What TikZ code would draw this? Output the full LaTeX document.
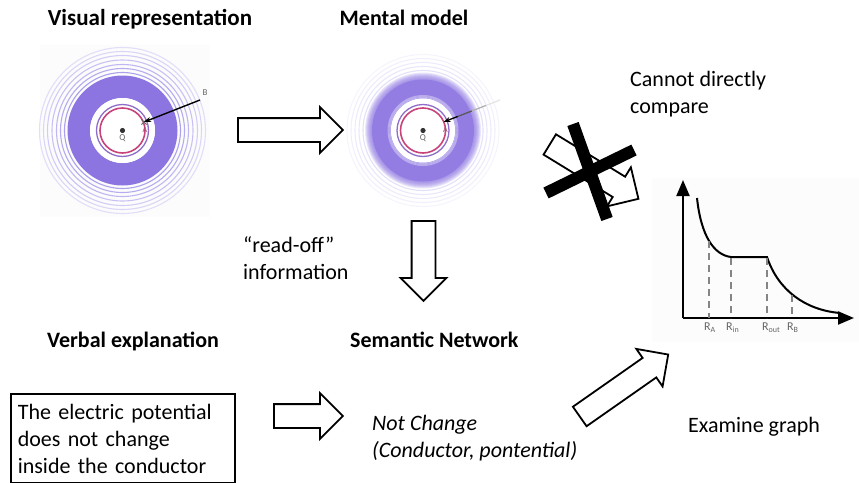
\documentclass[tikz,border=0pt]{standalone}
\usepackage{fontspec}
\setmainfont{Carlito}
\usetikzlibrary{shapes.arrows,arrows.meta,calc}
\definecolor{diskpurple}{HTML}{8C75E1}
\definecolor{ringpurple}{HTML}{9C90EA}
\definecolor{innerpurple}{HTML}{8F6CC8}
\definecolor{chargered}{HTML}{C8437A}
\definecolor{labelgray}{HTML}{666666}
\begin{document}
\begin{tikzpicture}[x=1pt,y=-1pt,
  txt/.style={font=\fontsize{22}{27}\selectfont, inner sep=0pt, align=left},
  title/.style={inner sep=0pt, font=\fontsize{22}{27}\selectfont\bfseries},
  hollow/.style={single arrow, draw=black, line width=1.8pt, fill=white,
    inner xsep=0pt, inner ysep=11pt, single arrow head extend=11pt, anchor=tail},
  tinylabel/.style={inner sep=0pt, text=labelgray, font=\fontsize{9}{9}\selectfont},
  axislabel/.style={inner sep=0pt, text=labelgray, font=\fontsize{12}{12}\selectfont, anchor=west},
  guide/.style={labelgray!80, line width=1.1pt, dash pattern=on 7pt off 5pt},
  cross/.style={line width=12pt, black}
]
\useasboundingbox (0,0) rectangle (859,482);

% ---------- titles ----------
\node[title, anchor=base, font=\fontsize{23}{27}\selectfont\bfseries] (vistitle) at (150,25) {Visual representation};
\node[title, anchor=base] (mentitle) at (404,25) {Mental model};
\node[title, anchor=base west] (verbtitle) at (47,347) {Verbal explanation};
\node[title, anchor=base west] (semtitle) at (350,347) {Semantic Network};

% ---------- visual representation: charged shell ----------
\fill[black!1] (40,45) rectangle (210,217);
\begin{scope}[shift={(122.5,130.5)}]
  \foreach \r/\c in {58/85,62/75,66/65,70.5/55,75/45,79/37,83/30}
    \draw[ringpurple!\c, line width=1.1pt] (0,0) circle (\r pt);
  \fill[diskpurple, even odd rule] (0,0) circle (55pt) (0,0) circle (32.5pt);
  \fill[white] (0,0) circle (32.5pt);
  \draw[innerpurple, line width=1.3pt] (0,0) circle (26pt);
  \draw[chargered, line width=1.6pt] (0,0) circle (22.5pt);
  \fill[black!80] (0,0) circle (2.6pt);
  \node[tinylabel] (qleft) at (0,8) {Q};
  \node[tinylabel, text=chargered!60!labelgray, font=\fontsize{8}{8}\selectfont] (aleft) at (22.5,-1) {A};
  \node[tinylabel] (bleft) at (82.5,-37.5) {B};
  \coordinate (Bvis) at (77.5,-30.5);
  \coordinate (Avis) at (21.5,-8.5);
\end{scope}
\draw[labelgray, line width=0.8pt] ($(Avis)+(-2.5,-2.5)$) -- ($(Avis)+(2.5,2.5)$)
  ($(Avis)+(-2.5,2.5)$) -- ($(Avis)+(2.5,-2.5)$);
\draw[black, line width=1.4pt, -{Stealth[length=7pt,width=5pt]}] (Bvis) -- (Avis);

% ---------- mental model: blurred copy ----------
\begin{scope}[shift={(423,130.5)}]
  \foreach \r/\c in {60/28,64/22,68/18,72/14,76/10}
    \draw[ringpurple!\c, line width=1.1pt] (0,0) circle (\r pt);
  \foreach \r in {58,57,...,52}
    \fill[diskpurple, opacity=0.18, even odd rule] (0,0) circle (\r pt) (0,0) circle (32pt);
  \fill[diskpurple!94!white, even odd rule] (0,0) circle (51pt) (0,0) circle (33pt);
  \foreach \r in {33,34,35}
    \draw[white, opacity=0.35, line width=1pt] (0,0) circle (\r pt);
  \fill[white] (0,0) circle (32pt);
  \draw[innerpurple, line width=1.3pt] (0,0) circle (26pt);
  \draw[chargered, line width=1.6pt] (0,0) circle (22.5pt);
  \fill[black!80] (0,0) circle (2.6pt);
  \node[tinylabel] (qmid) at (0,8) {Q};
  \node[tinylabel, text=chargered!60!labelgray, font=\fontsize{8}{8}\selectfont] (amid) at (22.5,-1) {A};
  \coordinate (Bmen) at (77,-30.5);
  \coordinate (Amen) at (20.5,-8.5);
\end{scope}
\draw[black!10, line width=1.3pt] (Bmen) -- ($(Bmen)!0.25!(Amen)$);
\draw[black!30, line width=1.3pt] ($(Bmen)!0.25!(Amen)$) -- ($(Bmen)!0.5!(Amen)$);
\draw[black!65, line width=1.3pt] ($(Bmen)!0.5!(Amen)$) -- ($(Bmen)!0.75!(Amen)$);
\draw[black, line width=1.3pt, -{Stealth[length=7pt,width=5pt]}] ($(Bmen)!0.75!(Amen)$) -- (Amen);

% ---------- block arrows ----------
\node[hollow, minimum height=105pt] (toMental) at (237,130) {};
\node[hollow, minimum height=80pt, rotate=-90] (readoff) at (423.5,220) {};
\node[hollow, minimum height=69pt] (toSemantic) at (273,416) {};
\node[hollow, minimum height=108pt, rotate=35] (toGraph) at (579,417) {};
\node[hollow, minimum height=104pt, rotate=-31.5] (blocked) at (549,144) {};
\draw[cross] (573,124) -- (607,219);
\draw[cross] (546,193) -- (634,150);

% ---------- potential graph ----------
\fill[black!1] (652,178) rectangle (859,342);
\coordinate (origin) at (683,318);
\coordinate (ytip) at (683,180);
\coordinate (xtip) at (854,318);
\draw[line width=2pt, -{Triangle[length=16pt,width=13pt]}] (origin) -- (ytip);
\draw[line width=2pt, -{Triangle[length=16pt,width=13pt]}] (origin) -- (xtip);
\draw[line width=2pt] (697,198) .. controls (701,236) and (714,255) .. (731,257)
  -- (767,257) .. controls (778,290) and (805,310) .. (840,313);
\draw[guide] (709,241) -- (709,318);
\draw[guide] (731,258) -- (731,318);
\draw[guide] (767,258) -- (767,318);
\draw[guide] (792,295) -- (792,318);
\node[axislabel] (ra) at (704,328) {R\textsubscript{A}};
\node[axislabel] (rin) at (726,328) {R\textsubscript{in}};
\node[axislabel] (rout) at (762,328) {R\textsubscript{out}};
\node[axislabel] (rb) at (787,328) {R\textsubscript{B}};

% ---------- remaining labels (base anchor sits on the last line) ----------
\node[txt, anchor=base west] (cannot) at (630,113) {Cannot directly\\compare};
\node[txt, anchor=base west] (readlbl) at (243,279) {“read-off”\\information};
\node[txt, anchor=base west, font=\fontsize{22}{27}\selectfont\itshape] (notchange) at (372,457) {Not Change\\(Conductor, pontential)};
\node[txt, anchor=base west] (examine) at (688,432) {Examine graph};
\node[txt, draw, line width=1.6pt, anchor=north west, inner xsep=7pt, inner ysep=10pt,
  text width=210pt] (verbal) at (10,393) {The electric potential\\does not change\\inside the conductor};
\end{tikzpicture}
\end{document}
